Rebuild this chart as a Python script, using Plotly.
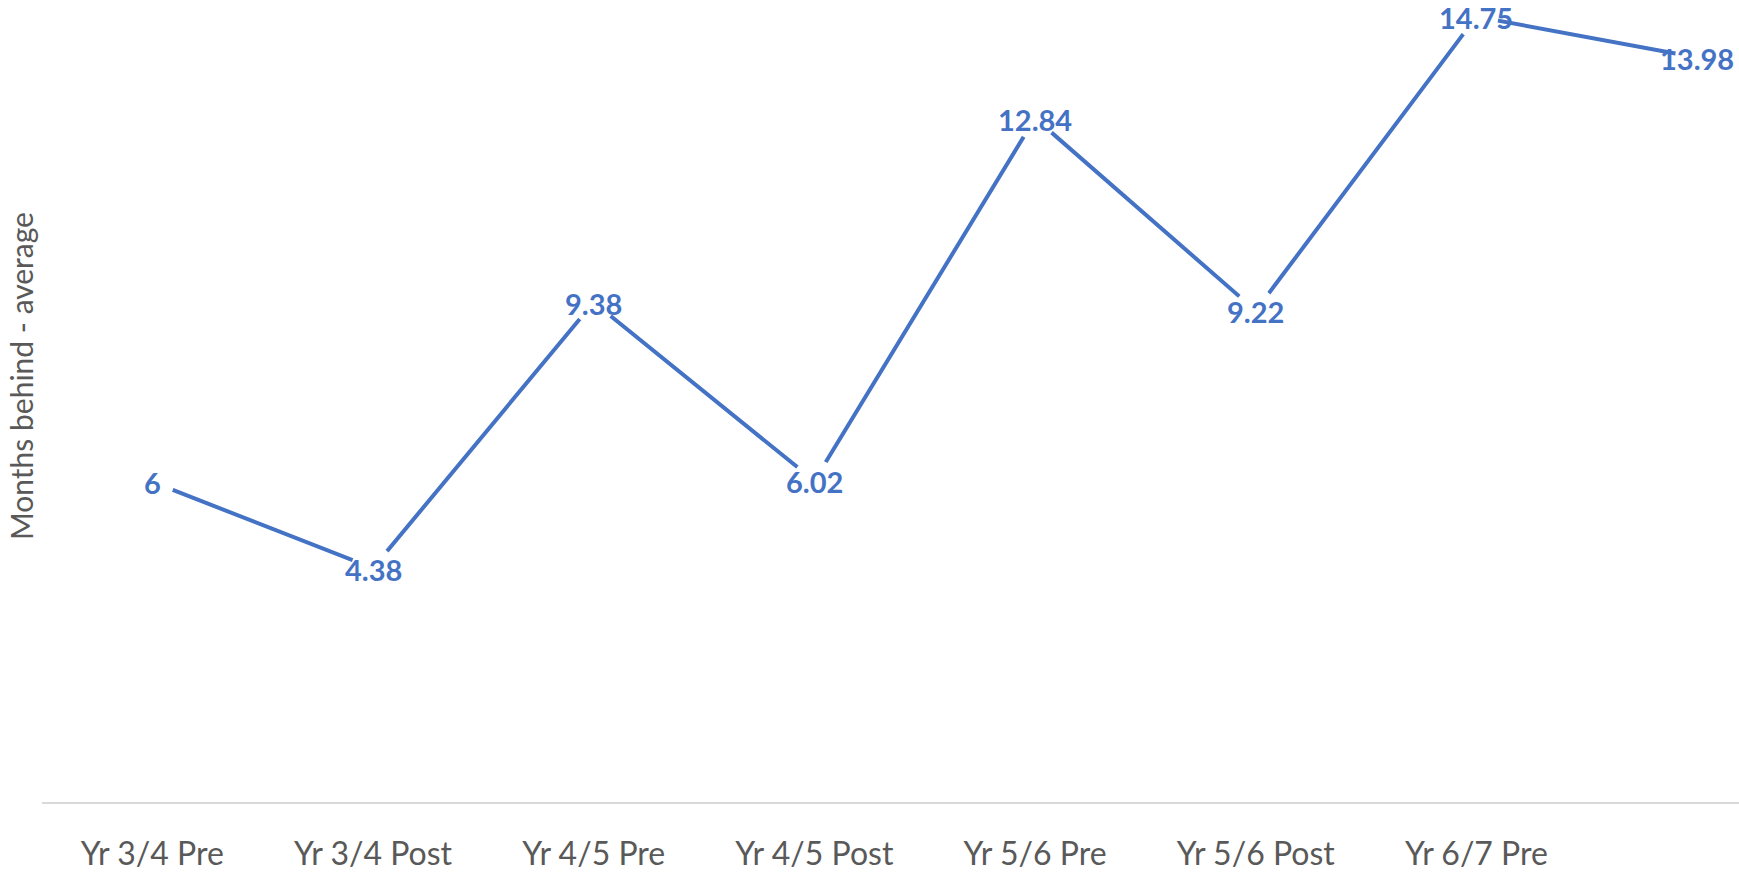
import plotly.graph_objects as go

categories = ["Yr 3/4 Pre", "Yr 3/4 Post", "Yr 4/5 Pre", "Yr 4/5 Post",
              "Yr 5/6 Pre", "Yr 5/6 Post", "Yr 6/7 Pre", "Yr 6/7 Post"]
months_behind = [6, 4.38, 9.38, 6.02, 12.84, 9.22, 14.75, 13.98]
value_labels = ["6", "4.38", "9.38", "6.02", "12.84", "9.22", "14.75", "13.98"]
y_title = "Months behind - average"

BLUE = "#4472C4"
GRAY = "#595959"

x_idx = list(range(len(categories)))

fig = go.Figure()
fig.add_trace(go.Scatter(
    x=x_idx,
    y=months_behind,
    mode="lines+markers",
    line=dict(color=BLUE, width=4),
    marker=dict(color="white", size=44, line=dict(width=0)),
    cliponaxis=False,
    hoverinfo="skip",
    showlegend=False,
))

for xi, v, lab in zip(x_idx, months_behind, value_labels):
    fig.add_annotation(
        x=xi, y=v, xref="x", yref="y", text=lab, showarrow=False,
        xanchor="center", yanchor="middle", yshift=-1,
        font=dict(family="Lato", size=29, color=BLUE, weight="bold"),
    )

fig.add_annotation(
    text=y_title, textangle=-90,
    xref="paper", yref="paper", x=-0.0124, y=0.531,
    xanchor="center", yanchor="middle", showarrow=False,
    font=dict(family="Lato", size=30, color=GRAY),
)

fig.update_layout(
    width=1739, height=872,
    margin=dict(l=42, r=0, t=0, b=68),
    paper_bgcolor="white", plot_bgcolor="white",
    hovermode=False,
    xaxis=dict(
        tickmode="array",
        tickvals=x_idx,
        ticktext=categories,
        range=[-0.5, 7.19],
        showgrid=False, zeroline=False,
        showline=True, linecolor="#D9D9D9", linewidth=1.5,
        ticks="outside", ticklen=23, tickcolor="rgba(0,0,0,0)",
        tickfont=dict(family="Lato", size=32, color=GRAY),
    ),
    yaxis=dict(
        range=[-0.018, 15.062],
        showgrid=False, zeroline=False, showline=False,
        showticklabels=False, ticks="",
    ),
)

fig.write_html(
    "out.html",
    config={"displayModeBar": False},
    post_script="document.body.style.margin='0';document.body.style.overflow='hidden';",
)
